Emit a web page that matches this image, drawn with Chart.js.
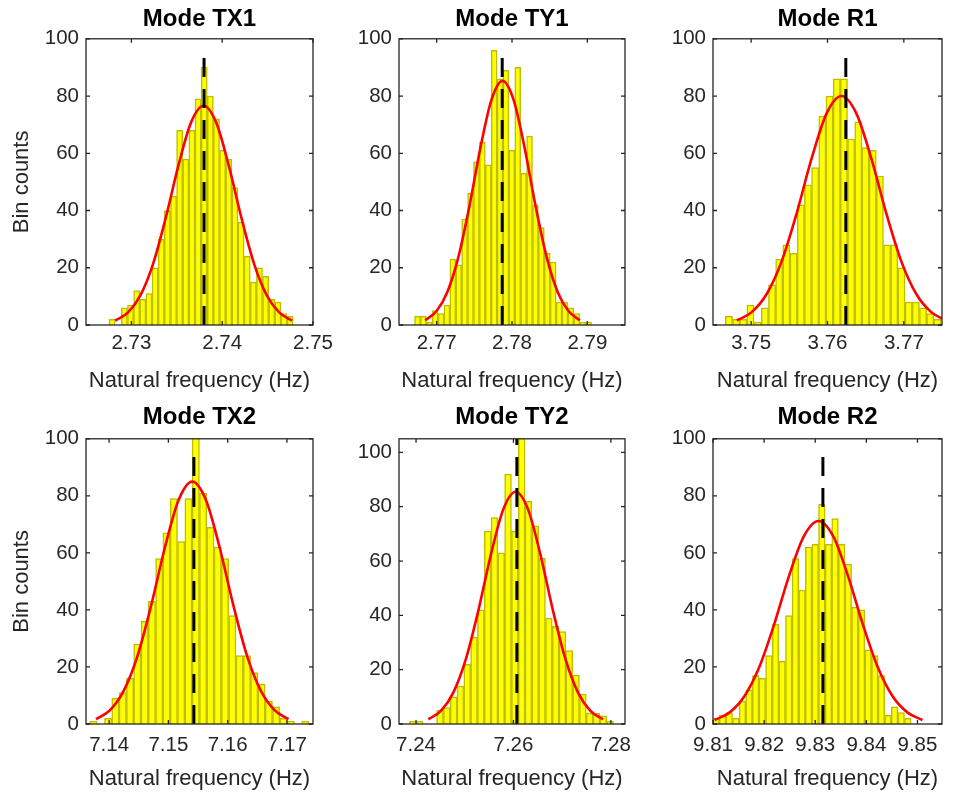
<!DOCTYPE html>
<html>
<head>
<meta charset="utf-8">
<title>Natural frequency histograms</title>
<script src="https://cdn.jsdelivr.net/npm/chart.js@4.4.1/dist/chart.umd.min.js"></script>
<style>
  html, body { margin: 0; padding: 0; background: #fff; }
  #fig { position: relative; width: 957px; height: 797px; overflow: hidden; }
  #fig canvas { position: absolute; }
</style>
</head>
<body>
<div id="fig"></div>
<script>
// ---- data -------------------------------------------------------------
const titles = ['Mode TX1', 'Mode TY1', 'Mode R1', 'Mode TX2', 'Mode TY2', 'Mode R2']

// histogram counts, 30 bins each
const countsTX1 = [2, 0, 6, 7, 12, 9, 11, 20, 30, 40, 45, 68, 58, 68, 79, 90, 80, 72, 61, 58, 48, 36, 24, 15, 20, 17, 9, 8, 4, 3]
const countsTY1 = [3, 3, 1, 5, 4, 7, 23, 21, 37, 46, 57, 64, 56, 96, 86, 89, 61, 90, 53, 66, 42, 34, 25, 22, 8, 8, 6, 4, 1, 1]
const countsR1 = [3, 2, 2, 7, 1, 6, 14, 23, 28, 25, 42, 49, 55, 73, 80, 86, 86, 65, 71, 62, 61, 52, 28, 28, 20, 8, 8, 6, 4, 2]
const countsTX2 = [1, 0, 2, 9, 11, 16, 28, 36, 43, 58, 67, 79, 64, 79, 103, 81, 69, 62, 58, 38, 24, 24, 18, 14, 8, 6, 2, 1, 0, 1]
const countsTY2 = [1, 1, 0, 0, 5, 6, 10, 14, 22, 32, 42, 71, 76, 63, 92, 71, 106, 82, 73, 61, 39, 36, 34, 27, 18, 11, 4, 4, 3, 1]
const countsR2 = [2, 3, 4, 2, 8, 12, 17, 16, 24, 35, 22, 38, 58, 47, 62, 63, 77, 63, 72, 63, 56, 41, 40, 26, 24, 17, 3, 6, 4, 2]

// first bin edge and bin width (Hz)
const binStart = [2.72754, 2.76706, 3.74661, 7.13675, 7.23864, 9.80994]
const binWidth = [0.000676, 0.000783, 0.000942, 0.0012327, 0.0013964, 0.001294]

// fitted normal curves
const fitXTX1 = [2.72821, 2.72960, 2.73099, 2.73238, 2.73377, 2.73517, 2.73656, 2.73795, 2.73934, 2.74073, 2.74213, 2.74352, 2.74491, 2.74630, 2.74769]
const fitYTX1 = [1.52, 4.30, 10.36, 21.29, 37.29, 55.62, 70.71, 76.6, 70.71, 55.62, 37.29, 21.29, 10.36, 4.30, 1.52]
const fitXTY1 = [2.76849, 2.76996, 2.77142, 2.77288, 2.77435, 2.77581, 2.77728, 2.77874, 2.78020, 2.78167, 2.78313, 2.78460, 2.78606, 2.78752, 2.78899]
const fitYTY1 = [1.69, 4.79, 11.54, 23.71, 41.52, 61.94, 78.74, 85.3, 78.74, 61.94, 41.52, 23.71, 11.54, 4.79, 1.69]
const fitXR1 = [3.74811, 3.75007, 3.75203, 3.75399, 3.75595, 3.75791, 3.75987, 3.76183, 3.76379, 3.76575, 3.76771, 3.76967, 3.77163, 3.77359, 3.77555]
const fitYR1 = [1.58, 4.49, 10.82, 22.24, 38.94, 58.09, 73.85, 80.0, 73.85, 58.09, 38.94, 22.24, 10.82, 4.49, 1.58]
const fitXTX2 = [7.13779, 7.14011, 7.14243, 7.14475, 7.14707, 7.14939, 7.15171, 7.15403, 7.15635, 7.15867, 7.16099, 7.16331, 7.16563, 7.16795, 7.17027]
const fitYTX2 = [1.68, 4.77, 11.50, 23.63, 41.38, 61.72, 78.46, 85.0, 78.46, 61.72, 41.38, 23.63, 11.50, 4.77, 1.68]
const fitXTY2 = [7.24253, 7.24509, 7.24765, 7.25021, 7.25277, 7.25533, 7.25789, 7.26045, 7.26301, 7.26557, 7.26813, 7.27069, 7.27325, 7.27581, 7.27837]
const fitYTY2 = [1.69, 4.80, 11.57, 23.77, 41.62, 62.08, 78.93, 85.5, 78.93, 62.08, 41.62, 23.77, 11.57, 4.80, 1.69]
const fitXR2 = [9.81030, 9.81321, 9.81611, 9.81902, 9.82192, 9.82483, 9.82774, 9.83064, 9.83355, 9.83645, 9.83936, 9.84226, 9.84517, 9.84808, 9.85098]
const fitYR2 = [1.41, 3.99, 9.63, 19.79, 34.66, 51.70, 65.72, 71.2, 65.72, 51.70, 34.66, 19.79, 9.63, 3.99, 1.41]

// reference frequency (dashed line) and how high it is drawn
const refFreq = [2.7380, 2.7787, 3.7624, 7.1543, 7.2607, 9.8315]
const refTop = [96, 96, 96, 97, 105, 97]

// axis limits and ticks
const xMin = [2.725, 2.765, 3.745, 7.1361, 7.2365, 9.8100]
const xMax = [2.750, 2.795, 3.775, 7.1744, 7.2829, 9.8548]
const yMax = [100, 100, 100, 100, 105, 100]
const xTicksTX1 = [2.73, 2.74, 2.75]
const xTicksTY1 = [2.77, 2.78, 2.79]
const xTicksR1 = [3.75, 3.76, 3.77]
const xTicksTX2 = [7.14, 7.15, 7.16, 7.17]
const xTicksTY2 = [7.24, 7.26, 7.28]
const xTicksR2 = [9.81, 9.82, 9.83, 9.84, 9.85]
const yTicks = [0, 20, 40, 60, 80, 100]

const xLabel = 'Natural frequency (Hz)'
const yLabel = 'Bin counts'

// ---- layout & style ---------------------------------------------------
const FONT = '"Liberation Sans", Arial, Helvetica, sans-serif'
const INK = '#262626'
const TICK = 4

// canvases overlap a little so edge tick labels are never cut off
const cols = [
  { left: 0, width: 350, axisWidth: 86, padRight: 37 },
  { left: 330, width: 325, axisWidth: 69, padRight: 30 },
  { left: 640, width: 317, axisWidth: 73, padRight: 15 }
]
const rows = [
  { top: 0, height: 400, axisHeight: 75, titlePad: { top: 5, bottom: 5 }, tickPad: 6, labelPad: 6 },
  { top: 400, height: 397, axisHeight: 73, titlePad: { top: 3, bottom: 7 }, tickPad: 9, labelPad: 5 }
]

const panels = [
  { counts: countsTX1, fitX: fitXTX1, fitY: fitYTX1, xTicks: xTicksTX1 },
  { counts: countsTY1, fitX: fitXTY1, fitY: fitYTY1, xTicks: xTicksTY1 },
  { counts: countsR1, fitX: fitXR1, fitY: fitYR1, xTicks: xTicksR1 },
  { counts: countsTX2, fitX: fitXTX2, fitY: fitYTX2, xTicks: xTicksTX2 },
  { counts: countsTY2, fitX: fitXTY2, fitY: fitYTY2, xTicks: xTicksTY2 },
  { counts: countsR2, fitX: fitXR2, fitY: fitYR2, xTicks: xTicksR2 }
]

// axes box with MATLAB-style inward ticks on all four sides
const boxTicks = {
  id: 'boxTicks',
  afterDatasetsDraw(chart) {
    const { ctx, chartArea: a, scales: { x, y } } = chart
    ctx.save()
    ctx.strokeStyle = INK
    ctx.lineWidth = 1.3
    ctx.beginPath()
    x.ticks.forEach(t => {
      const px = x.getPixelForValue(t.value)
      ctx.moveTo(px, a.bottom)
      ctx.lineTo(px, a.bottom - TICK)
      ctx.moveTo(px, a.top)
      ctx.lineTo(px, a.top + TICK)
    })
    y.ticks.forEach(t => {
      const py = y.getPixelForValue(t.value)
      ctx.moveTo(a.left, py)
      ctx.lineTo(a.left + TICK, py)
      ctx.moveTo(a.right, py)
      ctx.lineTo(a.right - TICK, py)
    })
    ctx.stroke()
    ctx.strokeRect(a.left, a.top, a.right - a.left, a.bottom - a.top)
    ctx.restore()
  }
}

function binCenters(i, n) {
  const out = []
  for (let k = 0; k < n; k += 1) out.push(binStart[i] + (k + 0.5) * binWidth[i])
  return out
}

function buildConfig(i) {
  const p = panels[i]
  const col = cols[i % 3]
  const row = rows[Math.floor(i / 3)]
  const centers = binCenters(i, p.counts.length)

  const datasets = [
    {
      type: 'line',
      data: [{ x: refFreq[i], y: 0 }, { x: refFreq[i], y: refTop[i] }],
      borderColor: '#000000',
      borderWidth: 3,
      borderDash: [19, 12],
      pointRadius: 0,
      fill: false,
      order: 1
    },
    {
      type: 'line',
      data: p.fitX.map((x, k) => ({ x, y: p.fitY[k] })),
      borderColor: '#ff0000',
      borderWidth: 2.6,
      pointRadius: 0,
      cubicInterpolationMode: 'monotone',
      fill: false,
      order: 2
    },
    {
      type: 'bar',
      data: centers.map((x, k) => ({ x, y: p.counts[k] })),
      backgroundColor: '#ffff00',
      borderColor: '#bebe00',
      borderWidth: 1.5,
      borderSkipped: 'start',
      barPercentage: 1,
      categoryPercentage: 1,
      grouped: false,
      order: 3
    }
  ]

  return {
    type: 'bar',
    data: { datasets },
    options: {
      responsive: false,
      animation: false,
      devicePixelRatio: 1,
      layout: { padding: { left: 0, right: col.padRight, top: 0, bottom: 0 } },
      plugins: {
        legend: { display: false },
        tooltip: { enabled: false },
        title: {
          display: true,
          text: titles[i],
          fullSize: false,
          color: '#000000',
          font: { family: FONT, size: 24, weight: 'bold' },
          padding: row.titlePad
        }
      },
      scales: {
        x: {
          type: 'linear',
          offset: false,
          min: xMin[i],
          max: xMax[i],
          grid: { display: false, drawTicks: false },
          border: { display: false },
          ticks: {
            color: INK,
            font: { family: FONT, size: 20.5 },
            padding: row.tickPad,
            autoSkip: false,
            maxRotation: 0,
            minRotation: 0,
            callback: v => Number(v).toFixed(2)
          },
          title: {
            display: true,
            text: xLabel,
            color: INK,
            font: { family: FONT, size: 22 },
            padding: { top: 0, bottom: row.labelPad }
          },
          afterBuildTicks: s => { s.ticks = p.xTicks.map(v => ({ value: v })) },
          afterFit: s => {
            s.height = row.axisHeight
            s.paddingLeft = 0
            s.paddingRight = 0
          }
        },
        y: {
          type: 'linear',
          min: 0,
          max: yMax[i],
          grid: { display: false, drawTicks: false },
          border: { display: false },
          ticks: {
            color: INK,
            font: { family: FONT, size: 20.5 },
            padding: 7
          },
          title: {
            display: i % 3 === 0,
            text: yLabel,
            color: INK,
            font: { family: FONT, size: 22 },
            padding: { top: 9, bottom: 0 }
          },
          afterBuildTicks: s => { s.ticks = yTicks.filter(v => v <= yMax[i]).map(v => ({ value: v })) },
          afterFit: s => {
            s.width = col.axisWidth
            s.paddingTop = 0
            s.paddingBottom = 0
          }
        }
      }
    },
    plugins: [boxTicks]
  }
}

const fig = document.getElementById('fig')
panels.forEach((p, i) => {
  const col = cols[i % 3]
  const row = rows[Math.floor(i / 3)]
  const canvas = document.createElement('canvas')
  canvas.width = col.width
  canvas.height = row.height
  canvas.style.left = col.left + 'px'
  canvas.style.top = row.top + 'px'
  canvas.style.width = col.width + 'px'
  canvas.style.height = row.height + 'px'
  fig.appendChild(canvas)
  new Chart(canvas, buildConfig(i))
})
</script>
</body>
</html>
